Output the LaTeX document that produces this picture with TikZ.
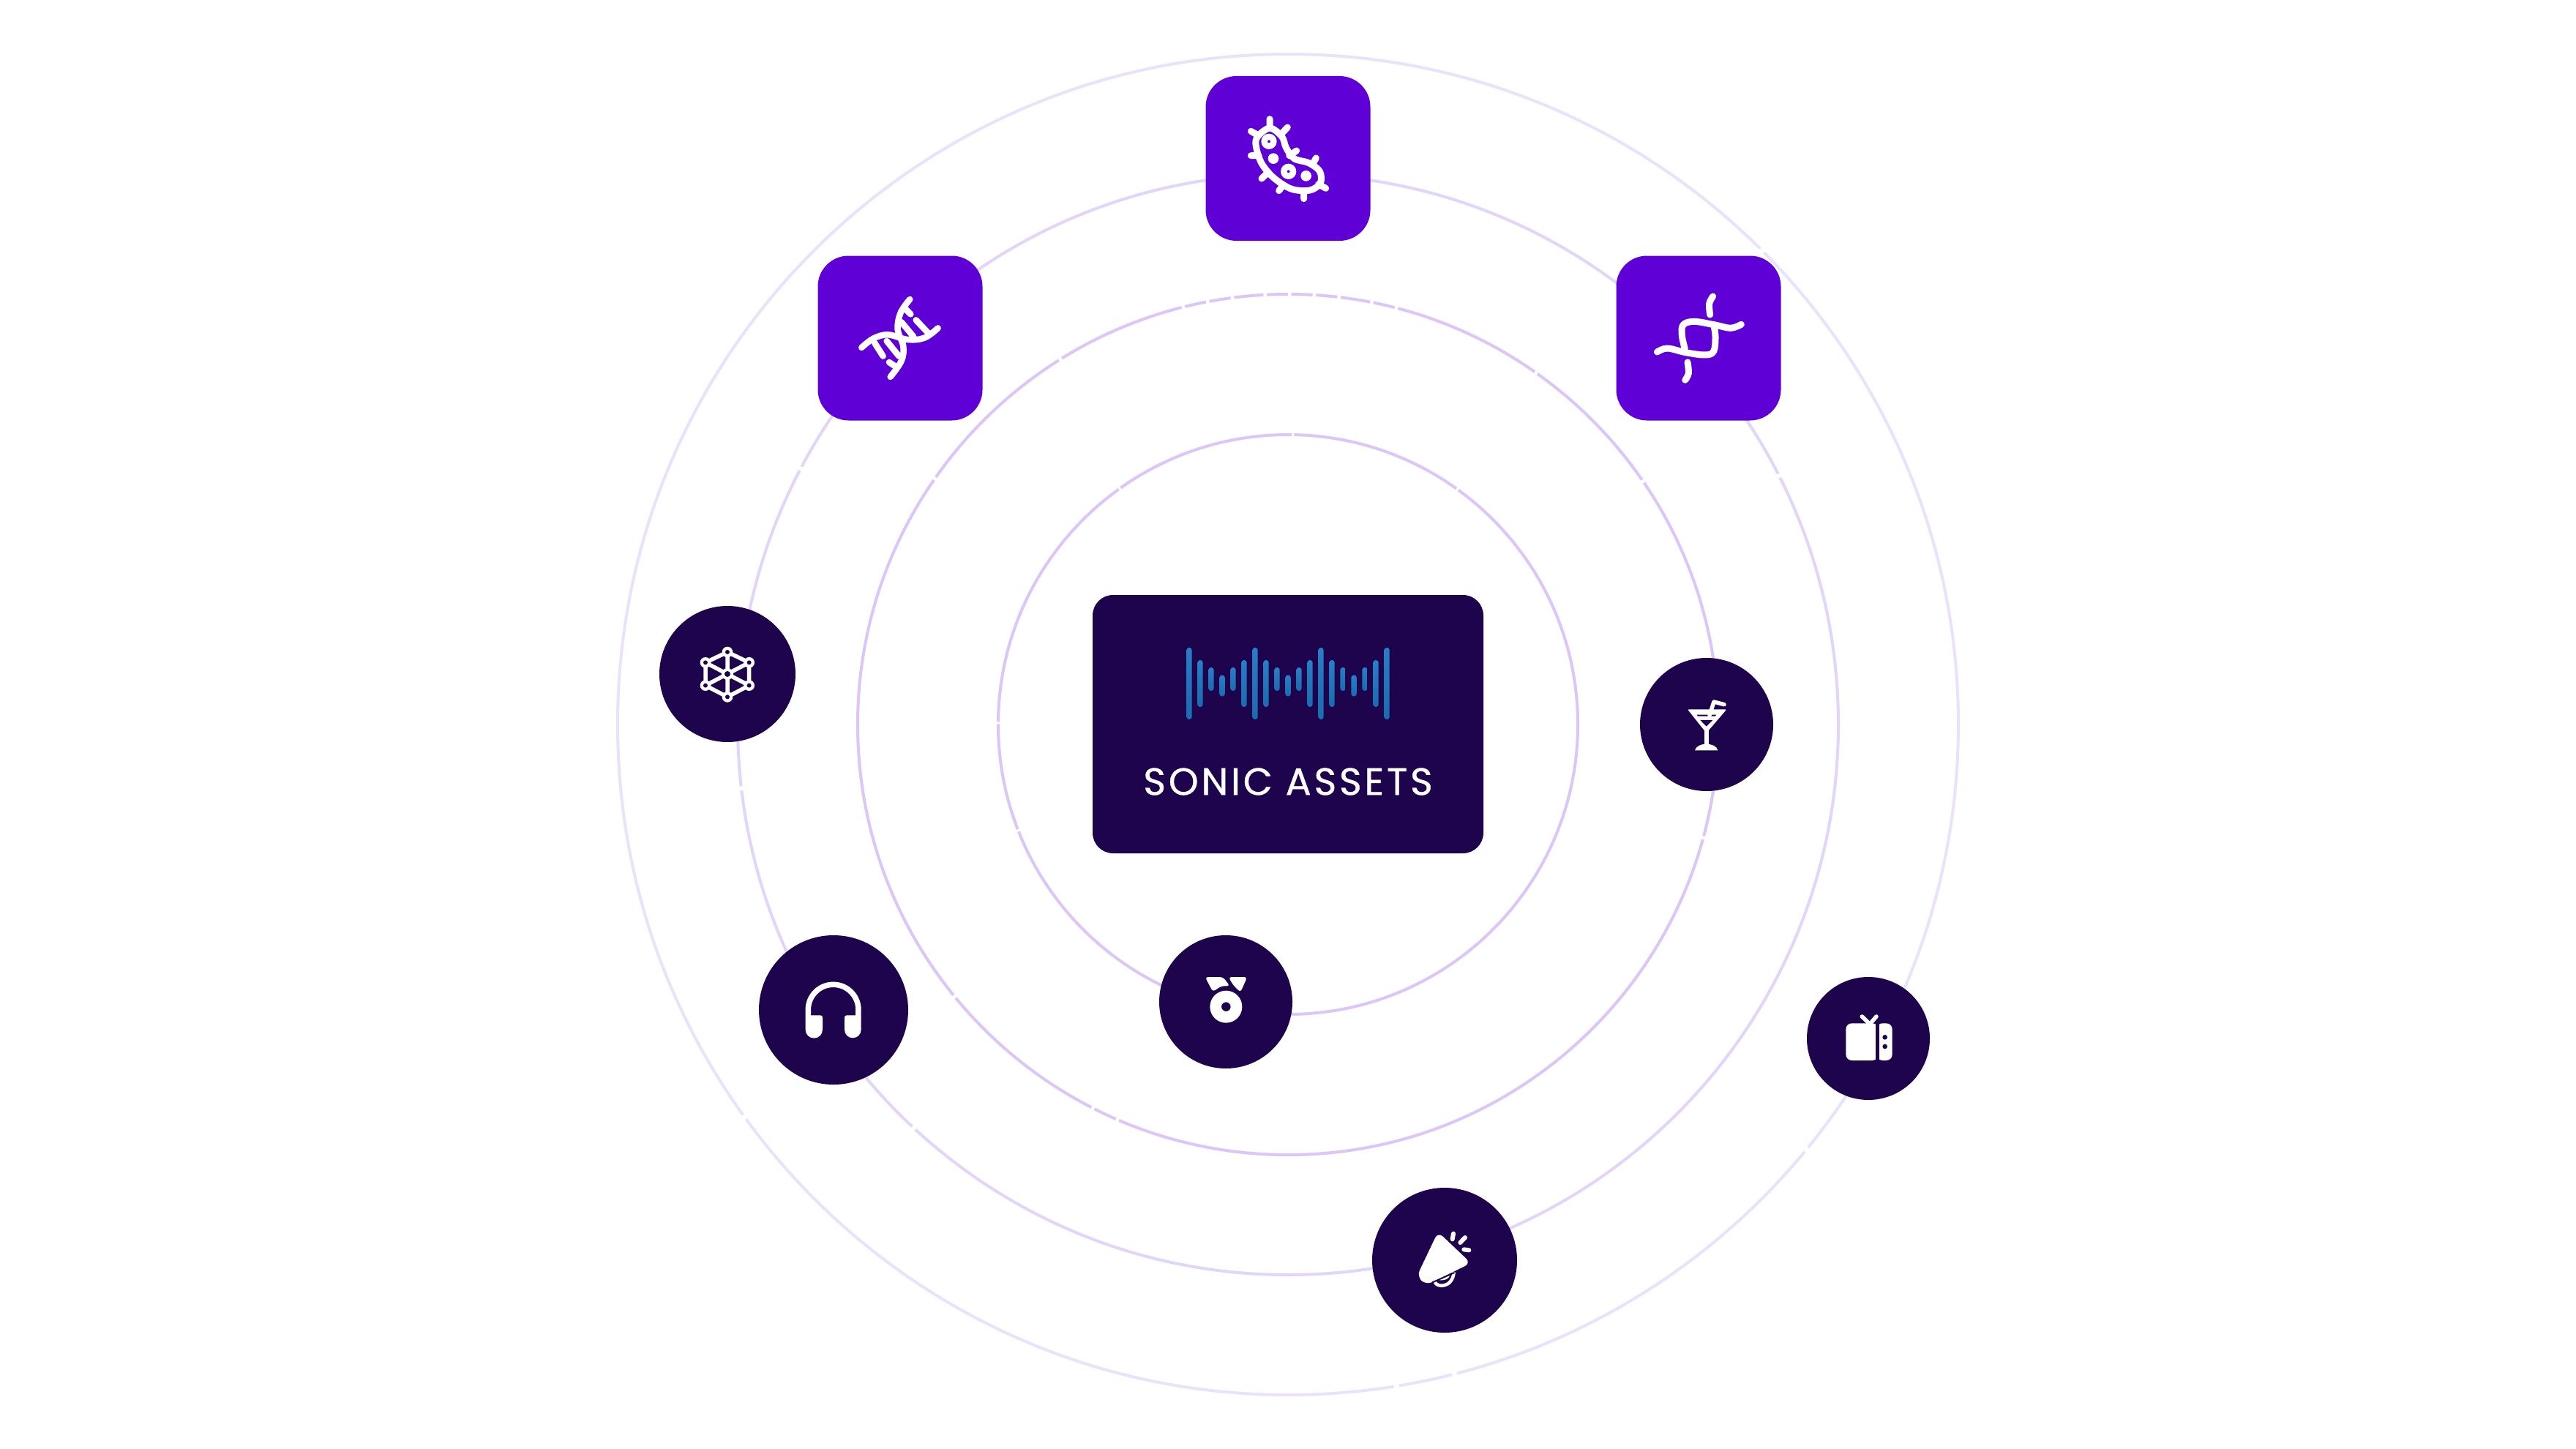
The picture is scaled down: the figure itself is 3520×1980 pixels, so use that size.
\documentclass[tikz,border=0pt]{standalone}
\usepackage{fontspec}
\setmainfont{Poppins}
\definecolor{navy}{HTML}{1D044D}
\definecolor{vio}{HTML}{5F00D6}
\definecolor{ringa}{HTML}{DCC6F7}
\definecolor{ringb}{HTML}{DCC6F7}
\definecolor{ringc}{HTML}{E3D5F9}
\definecolor{ringd}{HTML}{EAE2FB}
\definecolor{bartop}{HTML}{297EC8}
\definecolor{barbot}{HTML}{1B6BAF}
\tikzset{
  sq/.style={fill=vio,rounded corners=42pt,minimum size=225pt,inner sep=0pt},
  disc/.style={circle,fill=navy,inner sep=0pt,minimum size=#1},
  ringline/.style={line width=4pt,draw=#1},
  icon/.style={draw=white,line width=9pt,line cap=round,line join=round},
  icont/.style={draw=white,line width=5.5pt,line cap=round,line join=round},
}
\newcommand\ringgap[3]{%
  \pgfmathsetmacro\ga{atan2(#3-441,#2-784)}%
  \pgfmathsetmacro\gb{\ga-0.22}%
  \pgfmathsetmacro\gc{\ga+0.22}%
  \draw[white,line width=7pt,shift={(1760,990)}] (\gb:#1) arc[start angle=\gb,end angle=\gc,radius=#1];}
\begin{document}
\begin{tikzpicture}[x=1pt,y=-1pt]
\useasboundingbox (0,0) rectangle (3520,1980);
\fill[white] (0,0) rectangle (3520,1980);
\coordinate (c) at (1760,990);
% rings
\draw[ringline=ringa] (c) circle[radius=396];
\draw[ringline=ringb] (c) circle[radius=588];
\draw[ringline=ringc] (c) circle[radius=752];
\draw[ringline=ringd] (c) circle[radius=916];
% small gaps in the rings
\foreach \r/\px/\py in {396/787/265,396/682/298,396/887/298,396/608/440,396/621/505,
  588/720/186,588/735/183,588/750/180,588/770/179,588/785/179,588/800/180,588/815/181,588/835/184,588/850/187,
  588/645/218,588/935/227,588/1000/293,588/570/292,588/1037/510,588/583/605,588/665/675,588/680/682,
  752/487/285,752/1082/290,752/450/480,752/555/688,
  916/1075/150,916/453/680,916/1100/700,916/850/843,916/885/835}{\ringgap{\r}{\px}{\py}}
% centre card
\node[fill=navy,rounded corners=28pt,minimum width=534pt,minimum height=353pt,inner sep=0pt] (card) at (1760,989.5) {};
\foreach \i/\h/\o in {0/98/0,1/64/0,2/32/-6,3/29/3,4/32/-6,5/64/0,6/98/0,7/64/0,8/32/-6,9/29/3,10/32/-6,11/64/0,12/98/0,13/64/0,14/32/-6,15/29/3,16/32/-6,17/64/0,18/98/0}{
  \pgfmathsetmacro\bx{1625+15.0*\i}
  \pgfmathsetmacro\bt{934+\o-\h/2}
  \pgfmathsetmacro\bb{934+\o+\h/2}
  \shade[top color=bartop,bottom color=barbot,rounded corners=3.5pt] (\bx-3.7,\bt) rectangle (\bx+3.7,\bb);
}
\node[text=white,inner sep=0pt,font=\fontsize{52pt}{52pt}\selectfont\addfontfeature{LetterSpace=7.5,FakeBold=0.8}] (title) at (1760,1068) {SONIC ASSETS};
% icon holders
\node[sq] (bact) at (1760,216.5) {};
\node[sq] (dnal) at (1230,462) {};
\node[sq] (dnar) at (2321,462) {};
\node[disc=186pt] (mol) at (994,921) {};
\node[disc=182pt] (cock) at (2332,990) {};
\node[disc=204pt] (head) at (1139,1380) {};
\node[disc=182pt] (medal) at (1675,1369) {};
\node[disc=168pt] (tv) at (2553,1419) {};
\node[disc=198pt] (mega) at (1974,1722) {};
% bacterium
\begin{scope}[shift={(1620,90)},x=0.3333pt,y=-0.3333pt]
\draw[icon] plot[smooth cycle,tension=0.55] coordinates {(292,295)(345,255)(395,290)(412,335)(445,380)(505,398)(550,432)(553,480)(510,510)(435,505)(365,462)(315,405)(292,345)};
\draw[icon] (345,218)--(345,250) (268,268)--(295,283) (418,252)--(392,280) (268,368)--(300,368) (455,348)--(425,368) (535,378)--(520,405) (575,502)--(545,485) (485,545)--(485,515) (383,512)--(400,488) (312,462)--(335,440);
\draw[white,line width=8.5pt] (342,310) circle[radius=19];
\draw[white,line width=8.5pt] (422,433) circle[radius=19];
\fill[white] (360,380) circle[radius=22] (494,451) circle[radius=22];
\end{scope}
% left dna
\begin{scope}[shift={(1100,340)},x=0.3333pt,y=-0.3333pt]
\draw[icon,line width=8.5pt] plot[smooth,tension=0.6] coordinates {(430,207)(392,262)(380,330)(403,400)(395,460)(350,525)};
\draw[icon,line width=8.5pt] plot[smooth,tension=0.6] coordinates {(232,405)(280,368)(340,352)(420,372)(490,365)(545,325)};
\draw[icon,line width=8.5pt] (410,245)--(433,268) (455,292)--(505,345) (395,300)--(445,360) (285,385)--(320,440) (335,378)--(385,440) (345,465)--(375,485);
\end{scope}
% right dna
\begin{scope}[shift={(2200,340)},x=0.3333pt,y=-0.3333pt]
\draw[icon] plot[smooth,tension=0.6] coordinates {(422,195)(407,225)(410,270)};
\draw[icon] plot[smooth,tension=0.6] coordinates {(318,465)(322,510)(308,538)};
\draw[icon] plot[smooth,tension=0.6] coordinates {(538,310)(495,325)(430,312)(345,298)(300,312)(295,355)(307,410)};
\draw[icon] plot[smooth,tension=0.6] coordinates {(193,423)(235,408)(310,425)(390,435)(425,420)(432,360)(425,310)};
\end{scope}
% molecule
\begin{scope}[shift={(890,820)},x=0.3333pt,y=-0.3333pt]
\draw[icont] (312,213)--(401,256)--(401,350)--(312,397)--(222,350)--(222,256)--cycle (312,213)--(312,397) (222,256)--(401,350) (222,350)--(401,256);
\fill[white] (312,213) circle[radius=22] (401,256) circle[radius=22] (401,350) circle[radius=22] (312,397) circle[radius=22] (222,350) circle[radius=22] (222,256) circle[radius=22] (312,303) circle[radius=24];
\fill[navy] (312,213) circle[radius=9] (401,256) circle[radius=9] (401,350) circle[radius=9] (312,397) circle[radius=9] (222,350) circle[radius=9] (222,256) circle[radius=9] (312,303) circle[radius=12];
\end{scope}
% cocktail
\begin{scope}[shift={(2230,890)},x=0.3333pt,y=-0.3333pt]
\fill[white,rounded corners=2pt] (228,238)--(388,238)--(305,335)--cycle;
\fill[navy] (266,260)--(345,260)--(342,266)--(270,266)--cycle;
\fill[navy] (280,282)--(331,282)--(305,308)--cycle;
\draw[icont] (318,262)--(336,207)--(378,218);
\draw[white,line width=6pt] (305,320)--(305,390);
\fill[white] (258,406) .. controls (262,388) and (285,380) .. (305,380) .. controls (325,380) and (348,388) .. (352,406) --cycle;
\end{scope}
% headphones
\begin{scope}[shift={(1030,1270)},x=0.3333pt,y=-0.3333pt]
\draw[white,line width=7.5pt] (223,360)--(223,329) arc[start angle=180,end angle=360,radius=103]--(429,360);
\fill[white,rounded corners=3pt] (212,352)--(282,352)--(282,415)--(212,415)--cycle;
\fill[white] (247,411) circle[radius=35];
\fill[white,rounded corners=3pt] (372,352)--(440,352)--(440,415)--(372,415)--cycle;
\fill[white] (406,411) circle[radius=34];
\end{scope}
% medal
\begin{scope}[shift={(1570,1270)},x=0.3333pt,y=-0.3333pt]
\fill[white,rounded corners=4pt] (230,195)--(303,195)--(332,232)--(296,232)--(262,256)--cycle;
\fill[white,rounded corners=4pt] (326,195)--(403,195)--(375,258)--(345,228)--cycle;
\fill[white,even odd rule] (316,317) circle[radius=66] (316,317) circle[radius=19];
\end{scope}
% television
\begin{scope}[shift={(2450,1320)},x=0.3333pt,y=-0.3333pt]
\fill[white,rounded corners=8pt] (217,235)--(350,235)--(350,387)--(217,387)--cycle;
\fill[white,rounded corners=8pt] (343,235)--(407,235)--(407,387)--(343,387)--cycle;
\fill[navy] (340,235) rectangle (353,387);
\fill[navy] (377,292) circle[radius=10] (377,330) circle[radius=10];
\draw[icont] (283,207)--(315,238)--(342,207);
\end{scope}
% megaphone
\begin{scope}[shift={(1870,1620)},x=0.3333pt,y=-0.3333pt]
\draw[white,line width=4.5pt] (272,395) .. controls (280,420) and (345,420) .. (350,355);
\fill[white,rounded corners=9pt] (285,190)--(420,318)--(236,408)--(198,372)--cycle;
\fill[white] (280,385)--(335,362) .. controls (335,380) and (310,395) .. (280,385) --cycle;
\draw[navy,line width=2pt] (262,397)--(352,357);
\draw[icont,line width=6pt] (348,197)--(344,220) (396,213)--(376,234) (391,262)--(412,265);
\end{scope}
\end{tikzpicture}
\end{document}
